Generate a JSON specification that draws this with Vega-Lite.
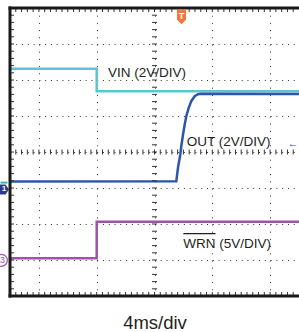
{
  "$schema": "https://vega.github.io/schema/vega-lite/v6.json",
  "width": 289,
  "height": 288,
  "autosize": {"type": "none"},
  "padding": {"left": 10, "top": 8, "right": 0, "bottom": 36},
  "background": "white",
  "view": {"stroke": null},
  "config": {"font": "Liberation Sans"},
  "datasets": {
    "traces": [
      {"s": "VIN", "t": 0, "v": 2.31}, {"s": "VIN", "t": 12, "v": 2.31}, {"s": "VIN", "t": 12, "v": 1.685}, {"s": "VIN", "t": 40, "v": 1.685},
      {"s": "OUT", "t": 0, "v": -0.82}, {"s": "OUT", "t": 23.02, "v": -0.811}, {"s": "OUT", "t": 23.25, "v": -0.439}, {"s": "OUT", "t": 23.57, "v": -0.069},
      {"s": "OUT", "t": 23.71, "v": 0.161}, {"s": "OUT", "t": 23.95, "v": 0.486}, {"s": "OUT", "t": 24.18, "v": 0.764}, {"s": "OUT", "t": 24.4, "v": 0.994},
      {"s": "OUT", "t": 24.73, "v": 1.228}, {"s": "OUT", "t": 25.09, "v": 1.411}, {"s": "OUT", "t": 25.56, "v": 1.55}, {"s": "OUT", "t": 26.02, "v": 1.605},
      {"s": "OUT", "t": 26.48, "v": 1.615}, {"s": "OUT", "t": 40, "v": 1.61},
      {"s": "WRN", "t": 0, "v": -2.95}, {"s": "WRN", "t": 12, "v": -2.95}, {"s": "WRN", "t": 12, "v": -1.94}, {"s": "WRN", "t": 40, "v": -1.94}
    ],
    "xt": [{"t":0.8},{"t":1.6},{"t":2.4},{"t":3.2},{"t":4},{"t":4.8},{"t":5.6},{"t":6.4},{"t":7.2},{"t":8},{"t":8.8},{"t":9.6},{"t":10.4},{"t":11.2},{"t":12},{"t":12.8},{"t":13.6},{"t":14.4},{"t":15.2},{"t":16},{"t":16.8},{"t":17.6},{"t":18.4},{"t":19.2},{"t":20},{"t":20.8},{"t":21.6},{"t":22.4},{"t":23.2},{"t":24},{"t":24.8},{"t":25.6},{"t":26.4},{"t":27.2},{"t":28},{"t":28.8},{"t":29.6},{"t":30.4},{"t":31.2},{"t":32},{"t":32.8},{"t":33.6},{"t":34.4},{"t":35.2},{"t":36},{"t":36.8},{"t":37.6},{"t":38.4},{"t":39.2}],
    "yt": [{"v":-3.8},{"v":-3.6},{"v":-3.4},{"v":-3.2},{"v":-3},{"v":-2.8},{"v":-2.6},{"v":-2.4},{"v":-2.2},{"v":-2},{"v":-1.8},{"v":-1.6},{"v":-1.4},{"v":-1.2},{"v":-1},{"v":-0.8},{"v":-0.6},{"v":-0.4},{"v":-0.2},{"v":0},{"v":0.2},{"v":0.4},{"v":0.6},{"v":0.8},{"v":1},{"v":1.2},{"v":1.4},{"v":1.6},{"v":1.8},{"v":2},{"v":2.2},{"v":2.4},{"v":2.6},{"v":2.8},{"v":3},{"v":3.2},{"v":3.4},{"v":3.6},{"v":3.8}],
    "labels": [
      {"label": "VIN (2V/DIV)", "t": 13.56, "v": 2.097},
      {"label": "OUT (2V/DIV)", "t": 24.46, "v": 0.153},
      {"label": "WRN (5V/DIV)", "t": 23.99, "v": -2.66}
    ],
    "overline": [{"t": 23.99, "t2": 28.45, "v": -2.27}],
    "one": [{"k": 1}]
  },
  "layer": [
    {
      "data": {"name": "traces"},
      "mark": {"type": "line", "strokeWidth": 2.5},
      "encoding": {
        "x": {"field": "t", "type": "quantitative", "scale": {"domain": [0, 40], "nice": false, "zero": false},
          "axis": {"values": [4, 8, 12, 16, 20, 24, 28, 32, 36], "grid": true, "gridDash": [1, 6.2], "gridColor": "#333", "gridWidth": 1, "gridOpacity": 1,
            "ticks": false, "labels": false, "domain": false, "title": "4ms/div", "titleFontSize": 18.5, "titleFont": "Liberation Sans", "titleFontWeight": "normal", "titleColor": "#231F20", "titlePadding": 17}},
        "y": {"field": "v", "type": "quantitative", "scale": {"domain": [-4, 4], "nice": false, "zero": false},
          "axis": {"values": [-3, -2, -1, 0, 1, 2, 3], "grid": true, "gridDash": [1, 4.78], "gridColor": "#333", "gridWidth": 1, "gridOpacity": 1,
            "ticks": false, "labels": false, "domain": false, "title": null}},
        "color": {"field": "s", "type": "nominal", "scale": {"domain": ["VIN", "OUT", "WRN"], "range": ["#5BC5D3", "#2C56AB", "#A052A6"]}, "legend": null}
      }
    },
    {
      "data": {"name": "xt"},
      "mark": {"type": "tick", "orient": "vertical", "size": 5, "thickness": 1, "color": "#333", "opacity": 1},
      "encoding": {"x": {"field": "t", "type": "quantitative"}, "y": {"datum": 0, "type": "quantitative"}}
    },
    {
      "data": {"name": "xt"},
      "mark": {"type": "tick", "orient": "vertical", "size": 8, "thickness": 1, "color": "#333", "opacity": 1, "clip": true},
      "encoding": {"x": {"field": "t", "type": "quantitative"}, "y": {"datum": 4, "type": "quantitative"}}
    },
    {
      "data": {"name": "xt"},
      "mark": {"type": "tick", "orient": "vertical", "size": 8, "thickness": 1, "color": "#333", "opacity": 1, "clip": true},
      "encoding": {"x": {"field": "t", "type": "quantitative"}, "y": {"datum": -4, "type": "quantitative"}}
    },
    {
      "data": {"name": "yt"},
      "mark": {"type": "tick", "orient": "horizontal", "size": 5, "thickness": 1, "color": "#333", "opacity": 1},
      "encoding": {"y": {"field": "v", "type": "quantitative"}, "x": {"datum": 20, "type": "quantitative"}}
    },
    {
      "data": {"name": "yt"},
      "mark": {"type": "tick", "orient": "horizontal", "size": 8, "thickness": 1, "color": "#333", "opacity": 1, "clip": true},
      "encoding": {"y": {"field": "v", "type": "quantitative"}, "x": {"datum": 0, "type": "quantitative"}}
    },
    {
      "data": {"name": "one"},
      "mark": {"type": "rule", "strokeWidth": 3, "color": "#1a1a1a", "strokeCap": "square"},
      "encoding": {"x": {"datum": 0, "type": "quantitative"}}
    },
    {
      "data": {"name": "one"},
      "mark": {"type": "rule", "strokeWidth": 3, "color": "#1a1a1a", "strokeCap": "square"},
      "encoding": {"y": {"datum": 4, "type": "quantitative"}}
    },
    {
      "data": {"name": "one"},
      "mark": {"type": "rule", "strokeWidth": 3, "color": "#1a1a1a", "strokeCap": "square"},
      "encoding": {"y": {"datum": -4, "type": "quantitative"}}
    },
    {
      "data": {"name": "labels"},
      "mark": {"type": "text", "align": "left", "baseline": "alphabetic", "fontSize": 13.5, "font": "Liberation Sans", "color": "#231F20"},
      "encoding": {
        "x": {"field": "t", "type": "quantitative"},
        "y": {"field": "v", "type": "quantitative"},
        "text": {"field": "label"}
      }
    },
    {
      "data": {"name": "overline"},
      "mark": {"type": "rule", "strokeWidth": 1.2, "color": "#231F20"},
      "encoding": {
        "x": {"field": "t", "type": "quantitative"},
        "x2": {"field": "t2"},
        "y": {"field": "v", "type": "quantitative"}
      }
    },
    {
      "data": {"values": [{"t": 23.74, "v": 3.76, "lab": "T"}]},
      "mark": {"type": "point", "shape": "M-0.6,-1 L0.6,-1 L0.6,0.4 L0,1 L-0.6,0.4 Z", "size": 225, "filled": true, "color": "#F07A3A", "opacity": 1},
      "encoding": {"x": {"field": "t", "type": "quantitative"}, "y": {"field": "v", "type": "quantitative"}}
    },
    {
      "data": {"values": [{"t": 23.74, "v": 3.76, "lab": "T"}]},
      "mark": {"type": "text", "fontSize": 9, "fontWeight": "bold", "color": "white", "baseline": "middle", "dy": -1},
      "encoding": {"x": {"field": "t", "type": "quantitative"}, "y": {"field": "v", "type": "quantitative"}, "text": {"field": "lab"}}
    },
    {
      "data": {"values": [{"t": -0.83, "v": -1.04, "lab": "1"}]},
      "mark": {"type": "point", "shape": "M-1,-1 L0.3,-1 L1,0 L0.3,1 L-1,1 Z", "size": 100, "filled": true, "color": "#2B3A8C", "opacity": 1},
      "encoding": {"x": {"field": "t", "type": "quantitative"}, "y": {"field": "v", "type": "quantitative"}}
    },
    {
      "data": {"values": [{"t": -0.83, "v": -1.04, "lab": "1"}]},
      "mark": {"type": "text", "fontSize": 8, "fontWeight": "bold", "color": "white", "baseline": "middle"},
      "encoding": {"x": {"field": "t", "type": "quantitative"}, "y": {"field": "v", "type": "quantitative"}, "text": {"field": "lab"}}
    },
    {
      "data": {"values": [{"t": -0.83, "v": -0.85}]},
      "mark": {"type": "tick", "orient": "horizontal", "size": 7, "thickness": 2, "color": "#3BB6A8", "opacity": 1},
      "encoding": {"x": {"field": "t", "type": "quantitative"}, "y": {"field": "v", "type": "quantitative"}}
    },
    {
      "data": {"values": [{"t": -1.18, "v": -3.01, "lab": "3"}]},
      "mark": {"type": "point", "shape": "circle", "size": 140, "filled": false, "stroke": "#A052A6", "strokeWidth": 1.2, "fill": "white", "fillOpacity": 1, "opacity": 1},
      "encoding": {"x": {"field": "t", "type": "quantitative"}, "y": {"field": "v", "type": "quantitative"}}
    },
    {
      "data": {"values": [{"t": -1.18, "v": -3.01, "lab": "3"}]},
      "mark": {"type": "text", "fontSize": 9, "color": "#A052A6", "baseline": "middle", "dx": 1},
      "encoding": {"x": {"field": "t", "type": "quantitative"}, "y": {"field": "v", "type": "quantitative"}, "text": {"field": "lab"}}
    },
    {
      "data": {"values": [{"t": 39.17, "v": 0.21, "lab": "←"}]},
      "mark": {"type": "text", "fontSize": 11, "fontWeight": "bold", "color": "#2C56AB", "baseline": "middle"},
      "encoding": {"x": {"field": "t", "type": "quantitative"}, "y": {"field": "v", "type": "quantitative"}, "text": {"field": "lab"}}
    }
  ]
}
